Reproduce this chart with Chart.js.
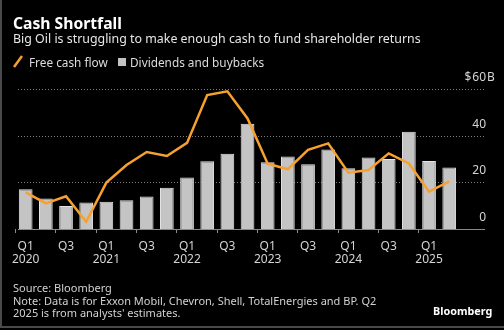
<!DOCTYPE html>
<html>
<head>
<meta charset="utf-8">
<script src="https://cdn.jsdelivr.net/npm/chart.js@4"></script>
<style>
html,body{margin:0;padding:0;background:#000;}
body{width:504px;height:330px;overflow:hidden;position:relative;font-family:"Noto Sans",sans-serif;}
.t{position:absolute;white-space:nowrap;}
#frameL{position:absolute;left:0;top:0;width:2px;height:328px;background:#4a4a4a;}
#frameB{position:absolute;left:0;top:326px;width:504px;height:2px;background:#4a4a4a;}
#wrap{position:absolute;left:0;top:0;width:504px;height:330px;}
</style>
</head>
<body>
<div id="frameL"></div>
<div id="frameB"></div>
<div id="wrap"><canvas id="cashChart"></canvas></div>

<div class="t" style="left:13px;top:13px;font-size:15.7px;line-height:20px;font-weight:bold;color:#fff;">Cash Shortfall</div>
<div class="t" style="left:13px;top:30px;font-size:12.4px;line-height:18px;color:#e6e6e6;">Big Oil is struggling to make enough cash to fund shareholder returns</div>

<svg class="t" style="left:12px;top:54px;" width="14" height="16"><line x1="2" y1="13" x2="10" y2="2" stroke="#f7a030" stroke-width="2.5"/></svg>
<div class="t" style="left:29px;top:53px;font-size:11.8px;line-height:18px;color:#dcdcdc;">Free cash flow</div>
<div class="t" style="left:118px;top:58px;width:8px;height:8px;background:#c4c4c4;"></div>
<div class="t" style="left:130px;top:53px;font-size:11.8px;line-height:18px;color:#dcdcdc;">Dividends and buybacks</div>

<div class="t" style="left:13px;top:282px;font-size:11px;line-height:12.5px;color:#d2d2d2;">Source: Bloomberg<br>Note: Data is for Exxon Mobil, Chevron, Shell, TotalEnergies and BP. Q2<br>2025 is from analysts' estimates.</div>
<div class="t" style="left:433px;top:303px;font-size:10.8px;line-height:16px;font-weight:bold;color:#fff;">Bloomberg</div>

<script>

// quarterly data, Q1 2020 .. Q2 2025 ($B)

const years = ['2020','2021','2022','2023','2024','2025']
const quarters = ['Q1','Q2','Q3','Q4']

const freeCashFlow = [15.7,11.0,14.0,3.1,19.9,27.4,33.0,31.3,36.9,57.4,59.0,47.4,28.0,25.6,33.9,36.7,24.1,25.3,32.4,28.1,16.0,20.4]
const payouts = [17.0,13.1,9.9,11.4,11.7,12.3,13.9,17.7,22.1,29.0,32.3,45.1,28.6,31.1,27.7,34.1,26.0,30.6,30.0,41.7,29.1,26.4]

const yTicks = [0,20,40,60]

const labels = []
years.forEach(y=>{
quarters.forEach(q=>{
if(labels.length<payouts.length) labels.push(q+' '+y)
})
})


// dotted grid, baseline and value labels on the right

const gridPlugin = {
id:'bbgGrid',
beforeDatasetsDraw(chart){
const ctx = chart.ctx
const y = chart.scales.y
ctx.save()
yTicks.forEach(v=>{
const py = Math.round(y.getPixelForValue(v))+0.5
ctx.beginPath()
if(v===0){
ctx.setLineDash([])
ctx.strokeStyle='#8a8a8a'
}else{
ctx.setLineDash([1,2])
ctx.strokeStyle='#808080'
}
ctx.lineWidth=1
ctx.moveTo(18,py)
ctx.lineTo(485,py)
ctx.stroke()
})
ctx.setLineDash([])
ctx.fillStyle='#d4d4d4'
ctx.font='12px "Noto Sans"'
ctx.textBaseline='middle'
yTicks.forEach(v=>{
const py = y.getPixelForValue(v)-11.5
ctx.textAlign='right'
ctx.fillText(String(v),486,py)
if(v===yTicks[yTicks.length-1]){
const w = ctx.measureText(String(v)).width
ctx.fillText('$',486-w-1,py)
ctx.textAlign='left'
ctx.fillText('B',487,py)
}
})
ctx.restore()
}
}


const cashChart = new Chart(

document.getElementById('cashChart'),

{
data:{
labels:labels,
datasets:[
{
type:'line',
label:'Free cash flow',
data:freeCashFlow,
borderColor:'#f7a030',
borderWidth:2.5,
pointRadius:0,
tension:0,
order:0
},
{
type:'bar',
label:'Dividends and buybacks',
data:payouts,
backgroundColor:'#c4c4c4',
borderColor:'#e4e4e4',
borderWidth:1,
categoryPercentage:1,
barPercentage:0.68,
order:1
}
]
},

options:{
responsive:true,
maintainAspectRatio:false,
animation:false,
layout:{padding:{left:15.6,right:44.7,top:89,bottom:61}},
plugins:{legend:{display:false},tooltip:{enabled:false}},
scales:{
x:{
border:{display:false},
grid:{
drawOnChartArea:false,
tickLength:4,
color:c=>c.index%2===0?'#8a8a8a':'rgba(0,0,0,0)'
},
ticks:{
autoSkip:false,
maxRotation:0,
padding:7,
color:'#d4d4d4',
font:{family:'Noto Sans',size:12,lineHeight:1.1},
callback:function(v,i){
const q = i%4
if(q===0) return ['Q1',years[Math.floor(i/4)]]
if(q===2) return 'Q3'
return ''
}
},
afterFit:s=>{s.height=40}
},
y:{
display:false,
min:0,
max:60
}
}
},

plugins:[gridPlugin]

}
)

</script>
</body>
</html>
